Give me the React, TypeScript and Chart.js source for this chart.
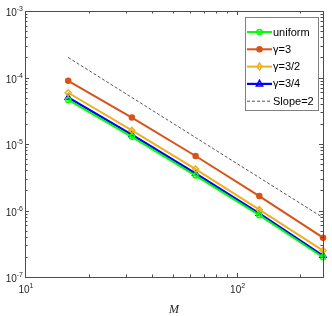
import React, { useEffect, useRef } from "react";
import { Chart, registerables } from "chart.js";

Chart.register(...registerables);

const M_VALUES = [16, 32, 64, 128, 256];
const UNIFORM = [4.6e-5, 1.28e-5, 3.35e-6, 8.5e-7, 1.98e-7];
const GAMMA_3 = [8.9e-5, 2.5e-5, 6.6e-6, 1.65e-6, 3.9e-7];
const GAMMA_3_2 = [5.9e-5, 1.6e-5, 4.2e-6, 1.03e-6, 2.5e-7];
const GAMMA_3_4 = [5.0e-5, 1.38e-5, 3.6e-6, 9.0e-7, 2.1e-7];
const SLOPE_2 = [2.0e-4, 5.0e-5, 1.25e-5, 3.125e-6, 7.8125e-7];

const LABELS = ["uniform", "γ=3", "γ=3/2", "γ=3/4", "Slope=2"];
const X_MAJOR = [10, 100];
const X_EXP = ["1", "2"];
const Y_MAJOR = [1e-3, 1e-4, 1e-5, 1e-6, 1e-7];
const Y_EXP = ["-3", "-4", "-5", "-6", "-7"];

const AXIS_COLOR = "#4d4d4d";

function drawPow(ctx: CanvasRenderingContext2D, exp: string, x: number, y: number, align: "right" | "center") {
  ctx.font = "10px 'Liberation Sans', Arial, sans-serif";
  const baseW = ctx.measureText("10").width;
  ctx.font = "7px 'Liberation Sans', Arial, sans-serif";
  const expW = ctx.measureText(exp).width;
  const total = baseW + expW;
  let left = align === "right" ? x - total : x - total / 2;
  ctx.textAlign = "left";
  ctx.textBaseline = "alphabetic";
  ctx.font = "10px 'Liberation Sans', Arial, sans-serif";
  ctx.fillText("10", left, y);
  ctx.font = "7px 'Liberation Sans', Arial, sans-serif";
  ctx.fillText(exp, left + baseW, y - 5);
}

const decorPlugin = {
  id: "decor",
  afterDatasetsDraw(chart: any) {
    const ctx: CanvasRenderingContext2D = chart.ctx;
    const { left, right, top, bottom } = chart.chartArea;
    const xs = chart.scales.x;
    const ys = chart.scales.y;
    ctx.save();
    ctx.strokeStyle = AXIS_COLOR;
    ctx.lineWidth = 1;
    ctx.setLineDash([]);
    ctx.strokeRect(Math.round(left) + 0.5, Math.round(top) + 0.5, Math.round(right - left), Math.round(bottom - top));
    const xTicks: [number, number][] = [];
    for (let d = 10; d <= 100; d *= 10) {
      for (let k = 1; k <= 9; k++) {
        const v = d * k;
        if (v >= 10 && v <= 256) xTicks.push([v, k === 1 ? 4 : 2.5]);
      }
    }
    ctx.beginPath();
    for (const [v, len] of xTicks) {
      const px = Math.round(xs.getPixelForValue(v)) + 0.5;
      ctx.moveTo(px, bottom);
      ctx.lineTo(px, bottom - len);
      ctx.moveTo(px, top);
      ctx.lineTo(px, top + len);
    }
    for (let d = 1e-7; d < 1.1e-3; d *= 10) {
      for (let k = 1; k <= 9; k++) {
        const v = d * k;
        if (v > 1.01e-3) continue;
        const len = k === 1 ? 4 : 2.5;
        const py = Math.round(ys.getPixelForValue(v)) + 0.5;
        ctx.moveTo(left, py);
        ctx.lineTo(left + len, py);
        ctx.moveTo(right, py);
        ctx.lineTo(right - len, py);
      }
    }
    ctx.stroke();

    ctx.fillStyle = "#262626";
    Y_MAJOR.forEach((v, i) => {
      const py = ys.getPixelForValue(v);
      drawPow(ctx, Y_EXP[i], left - 2, py + 5, "right");
    });
    X_MAJOR.forEach((v, i) => {
      const px = xs.getPixelForValue(v);
      drawPow(ctx, X_EXP[i], px + 1, bottom + 16, "center");
    });
    ctx.font = "italic 12px 'Liberation Serif', 'Times New Roman', serif";
    ctx.textAlign = "center";
    ctx.textBaseline = "alphabetic";
    ctx.fillText("M", (left + right) / 2, bottom + 36);

    const bx = 245.5, by = 17.5, bw = 73, bh = 93;
    ctx.fillStyle = "#ffffff";
    ctx.fillRect(bx, by, bw, bh);
    ctx.strokeStyle = "#7f7f7f";
    ctx.lineWidth = 1;
    ctx.strokeRect(bx, by, bw, bh);
    chart.data.datasets.forEach((ds: any, i: number) => {
      const cy = 32 + i * 17.3;
      ctx.save();
      ctx.strokeStyle = ds.borderColor;
      ctx.lineWidth = ds.borderWidth;
      ctx.setLineDash(ds.borderDash || []);
      ctx.beginPath();
      ctx.moveTo(247, cy);
      ctx.lineTo(272, cy);
      ctx.stroke();
      ctx.setLineDash([]);
      if (ds.pointRadius > 0) {
        ctx.fillStyle = ds.pointBackgroundColor;
        ctx.strokeStyle = ds.pointBorderColor;
        ctx.lineWidth = ds.pointBorderWidth;
        const r = ds.pointRadius;
        ctx.beginPath();
        if (ds.pointStyle === "circle") {
          ctx.arc(259.5, cy, r, 0, Math.PI * 2);
        } else if (ds.pointStyle === "rectRot") {
          ctx.moveTo(259.5, cy - r * 1.2);
          ctx.lineTo(259.5 + r * 0.8, cy);
          ctx.lineTo(259.5, cy + r * 1.2);
          ctx.lineTo(259.5 - r * 0.8, cy);
          ctx.closePath();
        } else if (ds.pointStyle === "triangle") {
          ctx.moveTo(259.5, cy - r);
          ctx.lineTo(259.5 + r * 0.9, cy + r * 0.6);
          ctx.lineTo(259.5 - r * 0.9, cy + r * 0.6);
          ctx.closePath();
        }
        ctx.fill();
        ctx.stroke();
      }
      ctx.restore();
      ctx.fillStyle = "#000000";
      ctx.font = "11px 'Liberation Sans', Arial, sans-serif";
      ctx.textAlign = "left";
      ctx.textBaseline = "middle";
      ctx.fillText(ds.label, 273, cy + 0.5);
    });
    ctx.restore();
  },
};

export default function App() {
  const ref = useRef<HTMLCanvasElement>(null);
  useEffect(() => {
    if (!ref.current) return;
    const mk = (label: string, data: number[], color: string, style: string, fill: string, radius: number, bw: number) => ({
      label,
      data: M_VALUES.map((m, i) => ({ x: m, y: data[i] })),
      borderColor: color,
      backgroundColor: color,
      borderWidth: bw,
      pointStyle: style,
      pointRadius: radius,
      pointBackgroundColor: fill,
      pointBorderColor: color,
      pointBorderWidth: 1.5,
      tension: 0,
      clip: 5,
    });
    const chart = new Chart(ref.current, {
      type: "line",
      data: {
        datasets: [
          mk(LABELS[0], UNIFORM, "#00ff00", "circle", "rgba(0,0,0,0)", 2.5, 2),
          mk(LABELS[1], GAMMA_3, "#d95319", "circle", "#d95319", 2.5, 2),
          mk(LABELS[2], GAMMA_3_2, "#edb120", "rectRot", "rgba(0,0,0,0)", 3, 2),
          mk(LABELS[3], GAMMA_3_4, "#0000ff", "triangle", "rgba(0,0,0,0)", 3.5, 2.2),
          {
            label: LABELS[4],
            data: M_VALUES.map((m, i) => ({ x: m, y: SLOPE_2[i] })),
            borderColor: "#555555",
            backgroundColor: "#555555",
            borderWidth: 1,
            borderDash: [3, 2],
            pointRadius: 0,
            pointStyle: "circle",
            tension: 0,
          },
        ] as any,
      },
      options: {
        responsive: false,
        animation: false,
        layout: { padding: { left: 25, right: 9, top: 11, bottom: 39 } },
        scales: {
          x: { type: "logarithmic", min: 10, max: 256, display: false },
          y: { type: "logarithmic", min: 1e-7, max: 1e-3, display: false },
        },
        plugins: { legend: { display: false }, tooltip: { enabled: false } },
      },
      plugins: [decorPlugin],
    });
    return () => chart.destroy();
  }, []);
  return (
    <div style={{ position: "fixed", left: 0, top: 0, width: 332, height: 316, background: "#fff" }}>
      <canvas ref={ref} width={332} height={316} style={{ width: 332, height: 316, display: "block" }} />
    </div>
  );
}
